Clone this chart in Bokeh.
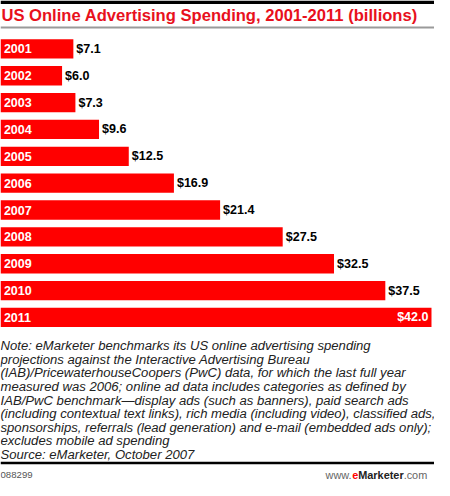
from bokeh.plotting import figure
from bokeh.models import Range1d, ColumnDataSource
from bokeh.core.properties import value
from bokeh.embed import file_html
from bokeh.resources import INLINE

# ---- data ----
years = [2001, 2002, 2003, 2004, 2005, 2006, 2007, 2008, 2009, 2010, 2011]
spending = [7.1, 6.0, 7.3, 9.6, 12.5, 16.9, 21.4, 27.5, 32.5, 37.5, 42.0]
title_text = "US Online Advertising Spending, 2001-2011 (billions)"
note_lines = [
    "Note: eMarketer benchmarks its US online advertising spending",
    "projections against the Interactive Advertising Bureau",
    "(IAB)/PricewaterhouseCoopers (PwC) data, for which the last full year",
    "measured was 2006; online ad data includes categories as defined by",
    "IAB/PwC benchmark\u2014display ads (such as banners), paid search ads",
    "(including contextual text links), rich media (including video), classified ads,",
    "sponsorships, referrals (lead generation) and e-mail (embedded ads only);",
    "excludes mobile ad spending",
    "Source: eMarketer, October 2007",
]
chart_id = "088299"

W, H = 434, 480
RW, RH = 450.0, 496.0          # reference layout units
S = W / RW
PX_PER_UNIT = 10.64            # reference px per billion
ROW = 27.75                    # reference px per year row
Y0 = 50.0                      # reference centre of first row

p = figure(width=W, height=H, output_backend="svg", toolbar_location=None,
           x_range=Range1d(0, RW / PX_PER_UNIT),
           y_range=Range1d(years[0] + (RH - Y0) / ROW, years[0] - Y0 / ROW),
           min_border=0, min_border_left=0, min_border_right=0,
           min_border_top=0, min_border_bottom=0)
p.xaxis.visible = False
p.yaxis.visible = False
p.grid.visible = False
p.outline_line_color = None
p.background_fill_color = "white"
p.border_fill_color = "white"
p.extra_x_ranges = {"px": Range1d(0, RW)}
p.extra_y_ranges = {"px": Range1d(RH, 0)}

def fs(v):
    return "%.2fpx" % (v * S)

RED = "#ff0000"

# top black rule
p.quad(left=0, right=RW, top=0, bottom=3.5, x_range_name="px", y_range_name="px",
       fill_color="black", line_color=None)
# title
p.text(x=[1], y=[15.5], text=[title_text], x_range_name="px", y_range_name="px",
       text_font=value("Liberation Sans"), text_font_style="bold",
       text_font_size=fs(17.2), text_color="#e8101c",
       text_baseline="middle", text_align="left")
# grey rule under title
p.line(x=[0, RW], y=[28, 28], x_range_name="px", y_range_name="px",
       line_color="#9a9a9a", line_width=2)

# bars
src = ColumnDataSource(dict(y=years, v=spending))
p.hbar(y="y", right="v", left=0, height=0.72, source=src,
       fill_color=RED, line_color=None)

# year labels inside bars
p.text(x=[3.5] * len(years), y=years, text=[str(y) for y in years],
       x_range_name="px", text_font=value("Liberation Sans"), text_font_style="bold",
       text_font_size=fs(13), text_color="white", text_baseline="middle")

# value labels
out_src = ColumnDataSource(dict(y=years[:-1], v=spending[:-1],
                                t=["$%.1f" % v for v in spending[:-1]]))
p.text(x="v", y="y", text="t", source=out_src, x_offset=3,
       text_font=value("Liberation Sans"), text_font_style="bold",
       text_font_size=fs(13), text_color="black", text_baseline="middle")
in_src = ColumnDataSource(dict(y=years[-1:], v=spending[-1:],
                               t=["$%.1f" % v for v in spending[-1:]]))
p.text(x="v", y="y", text="t", source=in_src, x_offset=-3,
       text_font=value("Liberation Sans"), text_font_style="bold",
       text_font_size=fs(13), text_color="white", text_baseline="middle",
       text_align="right")

# notes
ny = [356.7 + 14.04 * i for i in range(len(note_lines))]
p.text(x=[0] * len(note_lines), y=ny, text=note_lines,
       x_range_name="px", y_range_name="px",
       text_font=value("Liberation Sans"), text_font_style="italic",
       text_font_size=fs(13.6), text_color="#222222", text_baseline="middle")

# bottom rule
p.line(x=[0, RW], y=[478, 478], x_range_name="px", y_range_name="px",
       line_color="black", line_width=2.5)

# footer
p.text(x=[0], y=[490], text=[chart_id], x_range_name="px", y_range_name="px",
       text_font=value("Liberation Sans"), text_font_size=fs(10),
       text_color="#555555", text_baseline="middle")
FOOT_FS = 11.3
# approximate glyph advance widths (em) of Liberation Sans, used only for layout
foot_parts = [("www.", 2.444, "normal", "#666666"),
              ("e", 0.556, "bold", "#ff0000"),
              ("Marketer", 4.168, "bold", "#222222"),
              (".com", 2.167, "normal", "#666666")]
fx = 337.0
for t, wem, st, c in foot_parts:
    p.text(x=[fx], y=[490], text=[t], x_range_name="px", y_range_name="px",
           text_font=value("Liberation Sans"), text_font_style=st,
           text_font_size=fs(FOOT_FS), text_color=c, text_baseline="middle")
    fx += wem * FOOT_FS

open("out.html", "w").write(file_html(p, INLINE))
